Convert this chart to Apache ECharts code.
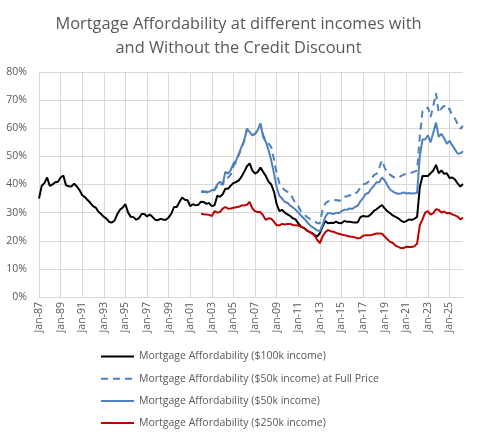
<!DOCTYPE html>
<html>
<head>
<meta charset="utf-8">
<script src="https://cdn.jsdelivr.net/npm/echarts@6/dist/echarts.min.js"></script>
<style>
  html, body { margin: 0; padding: 0; background: #fff; }
  #chart-root { width: 477px; height: 439px; }
</style>
</head>
<body>
<div id="chart-root"></div>
<script>
// quarterly points, Jan-87 .. Apr-26
const startYear = 1987;
const quarterCount = 158;
const monthNames = ['Jan', 'Apr', 'Jul', 'Oct'];

// the $50k / $250k series start in Jan-02 (quarter index 60)
const lateStart = 60;

const afford100k = [
  35.0, 39.5, 40.5, 42.5, 39.5, 40.0, 40.8, 41.0, 42.5, 43.2,
  39.7, 39.4, 39.3, 40.3, 39.3, 38.0, 36.2, 35.5, 34.5, 33.5,
  32.3, 31.8, 30.3, 29.5, 28.5, 27.9, 26.7, 26.5, 27.2, 29.5,
  31.0, 31.8, 33.0, 30.0, 28.5, 28.4, 27.5, 28.0, 29.5, 29.5,
  28.6, 29.3, 28.5, 27.5, 27.3, 27.8, 27.5, 27.5, 28.3, 29.6,
  32.0, 32.0, 33.8, 35.4, 34.6, 34.4, 32.3, 33.0, 32.6, 32.8,
  33.9, 33.8, 33.1, 33.4, 32.3, 32.6, 36.0, 35.6, 36.5, 38.5,
  38.5, 39.6, 40.5, 40.9, 41.5, 42.8, 44.5, 46.5, 47.5, 45.0,
  43.9, 44.5, 46.0, 44.5, 43.0, 41.0, 40.0, 37.5, 33.0, 30.5,
  31.0, 30.0, 29.4, 28.8, 28.0, 27.6, 26.2, 25.0, 24.6, 23.8,
  23.2, 22.8, 22.1, 21.5, 22.7, 25.0, 27.0, 26.2, 26.4, 26.3,
  26.8, 26.3, 26.2, 27.0, 26.8, 26.8, 26.6, 26.5, 26.5, 28.4,
  28.8, 28.6, 28.7, 29.5, 30.6, 31.2, 32.0, 32.7, 31.5, 30.5,
  29.8, 29.0, 28.5, 28.0, 27.2, 26.6, 27.0, 27.6, 27.4, 27.8,
  28.5, 39.0, 43.0, 43.0, 43.0, 44.0, 45.0, 47.0, 44.0, 45.0,
  43.8, 44.0, 42.3, 42.5, 41.8, 40.4, 39.3, 40.2
];

const afford50kFull = [
  37.3, 37.4, 37.2, 37.2, 37.8, 38.0, 39.5, 40.5, 39.8, 42.5,
  42.5, 43.5, 46.5, 48.0, 50.5, 53.0, 55.5, 59.5, 58.5, 57.5,
  58.0, 59.3, 61.5, 57.5, 55.6, 54.5, 53.3, 49.0, 44.0, 40.5,
  39.0, 38.0, 37.4, 36.8, 35.0, 33.3, 32.3, 30.4, 29.6, 28.6,
  28.0, 27.4, 27.0, 26.2, 26.2, 31.0, 33.3, 34.0, 34.2, 34.3,
  34.5, 34.2, 34.4, 35.6, 35.8, 36.2, 36.0, 36.8, 37.4, 39.0,
  40.0, 40.3, 41.0, 42.0, 43.3, 43.8, 46.0, 48.6, 46.0, 44.0,
  43.5, 42.8, 42.3, 42.3, 43.0, 43.5, 43.8, 43.8, 44.2, 44.6,
  45.0, 57.0, 66.0, 66.0, 67.5, 64.0, 68.0, 72.5, 65.5, 67.0,
  68.0, 66.5, 67.0, 64.5, 63.5, 61.5, 59.8, 60.8
];

const afford50k = [
  37.5, 37.6, 37.4, 37.4, 38.0, 38.2, 40.0, 41.0, 40.1, 44.5,
  43.9, 45.1, 47.5, 48.6, 51.0, 53.4, 55.7, 59.9, 58.7, 57.5,
  58.1, 59.3, 61.7, 56.9, 55.1, 52.2, 48.5, 44.0, 39.0, 36.0,
  35.0, 33.8, 33.5, 32.5, 31.8, 31.0, 30.0, 29.0, 28.0, 27.0,
  25.8, 25.0, 24.4, 23.7, 23.4, 25.5, 28.5, 29.8, 29.8, 29.5,
  30.0, 29.8, 30.5, 31.0, 31.0, 31.5, 31.3, 32.0, 32.5, 34.0,
  35.2, 36.7, 37.0, 38.5, 39.5, 40.8, 40.8, 42.5, 41.5, 39.7,
  38.2, 37.5, 37.0, 36.7, 36.8, 37.2, 36.8, 37.0, 36.8, 36.9,
  37.0, 50.0, 56.0, 56.0, 57.5, 55.0, 58.5, 62.0, 57.0, 58.0,
  56.5, 54.5, 55.5, 54.0, 52.5, 51.0, 51.0, 51.8
];

const afford250k = [
  29.6, 29.4, 29.3, 29.2, 28.8, 30.5, 30.0, 30.2, 31.4, 32.0,
  31.4, 31.5, 31.7, 31.9, 32.1, 32.5, 32.6, 32.8, 33.8, 31.5,
  30.5, 30.2, 30.2, 29.0, 27.4, 28.0, 27.8, 26.8, 25.5, 25.5,
  26.0, 25.8, 26.0, 26.0, 25.6, 25.5, 25.4, 25.0, 24.6, 23.8,
  23.2, 22.6, 22.0, 20.3, 19.2, 21.5, 23.0, 23.8, 23.4, 23.2,
  22.8, 22.5, 22.2, 22.0, 21.8, 21.5, 21.4, 21.2, 20.9, 21.0,
  21.8, 22.0, 22.0, 22.0, 22.3, 22.6, 22.6, 22.5, 21.5, 20.5,
  19.6, 19.2, 18.3, 17.8, 17.4, 17.4, 17.9, 17.8, 17.8, 18.0,
  19.0, 25.5, 27.6, 30.0, 30.5, 29.3, 29.8, 31.2, 31.0, 30.0,
  30.4, 29.8, 29.9, 29.4, 29.0, 28.6, 27.6, 28.2
];

const seriesNames = [
  'Mortgage Affordability ($100k income)',
  'Mortgage Affordability ($50k income) at Full Price',
  'Mortgage Affordability ($50k income)',
  'Mortgage Affordability ($250k income)'
];

const yTicks = [0, 10, 20, 30, 40, 50, 60, 70, 80];

const categories = [];
for (let i = 0; i < quarterCount; i++) {
  const year = startYear + Math.floor(i / 4);
  categories.push(monthNames[i % 4] + '-' + String(year % 100).padStart(2, '0'));
}

function padLate(values) {
  return new Array(lateStart).fill(null).concat(values);
}

const textColor = '#595959';
const gridColor = '#d9d9d9';
const font = '"Open Sans", "Liberation Sans", sans-serif';

function lineSeries(name, data, color, dashed) {
  return {
    name: name,
    type: 'line',
    data: data,
    symbol: 'none',
    connectNulls: false,
    lineStyle: { color: color, width: 2, type: dashed ? [7, 5] : 'solid' },
    itemStyle: { color: color },
    z: 2
  };
}

const chart = echarts.init(document.getElementById('chart-root'), null, { renderer: 'canvas' });
chart.setOption({
  animation: false,
  backgroundColor: '#fff',
  textStyle: { fontFamily: font },
  title: {
    text: 'Mortgage Affordability at different incomes with\nand Without the Credit Discount',
    left: 'center',
    top: 7,
    textStyle: { color: textColor, fontSize: 16.4, fontWeight: 'normal', lineHeight: 24, fontFamily: font }
  },
  legend: {
    orient: 'vertical',
    left: 100,
    top: 351,
    padding: 0,
    itemWidth: 33,
    itemHeight: 12,
    itemGap: 11.2,
    data: seriesNames,
    itemStyle: { opacity: 0 },
    textStyle: { color: textColor, fontSize: 10.5, fontFamily: font }
  },
  grid: { left: 39, right: 14, top: 72, bottom: 142, containLabel: false },
  xAxis: {
    type: 'category',
    data: categories,
    boundaryGap: false,
    axisLine: { show: true, lineStyle: { color: gridColor } },
    axisTick: { show: false },
    axisLabel: { interval: 7, rotate: 90, color: textColor, fontSize: 10.5, margin: 5, fontFamily: font },
    splitLine: { show: true, interval: 7, lineStyle: { color: gridColor, width: 1 } }
  },
  yAxis: {
    type: 'value',
    min: yTicks[0],
    max: yTicks[yTicks.length - 1],
    interval: 10,
    axisLine: { show: false },
    axisTick: { show: false },
    axisLabel: { color: textColor, fontSize: 10.5, margin: 12, formatter: '{value}%', fontFamily: font },
    splitLine: { lineStyle: { color: gridColor, width: 1 } }
  },
  series: [
    lineSeries(seriesNames[0], afford100k, '#000000', false),
    lineSeries(seriesNames[1], padLate(afford50kFull), '#4f81bd', true),
    lineSeries(seriesNames[2], padLate(afford50k), '#4f81bd', false),
    lineSeries(seriesNames[3], padLate(afford250k), '#c00000', false)
  ]
});
</script>
</body>
</html>
